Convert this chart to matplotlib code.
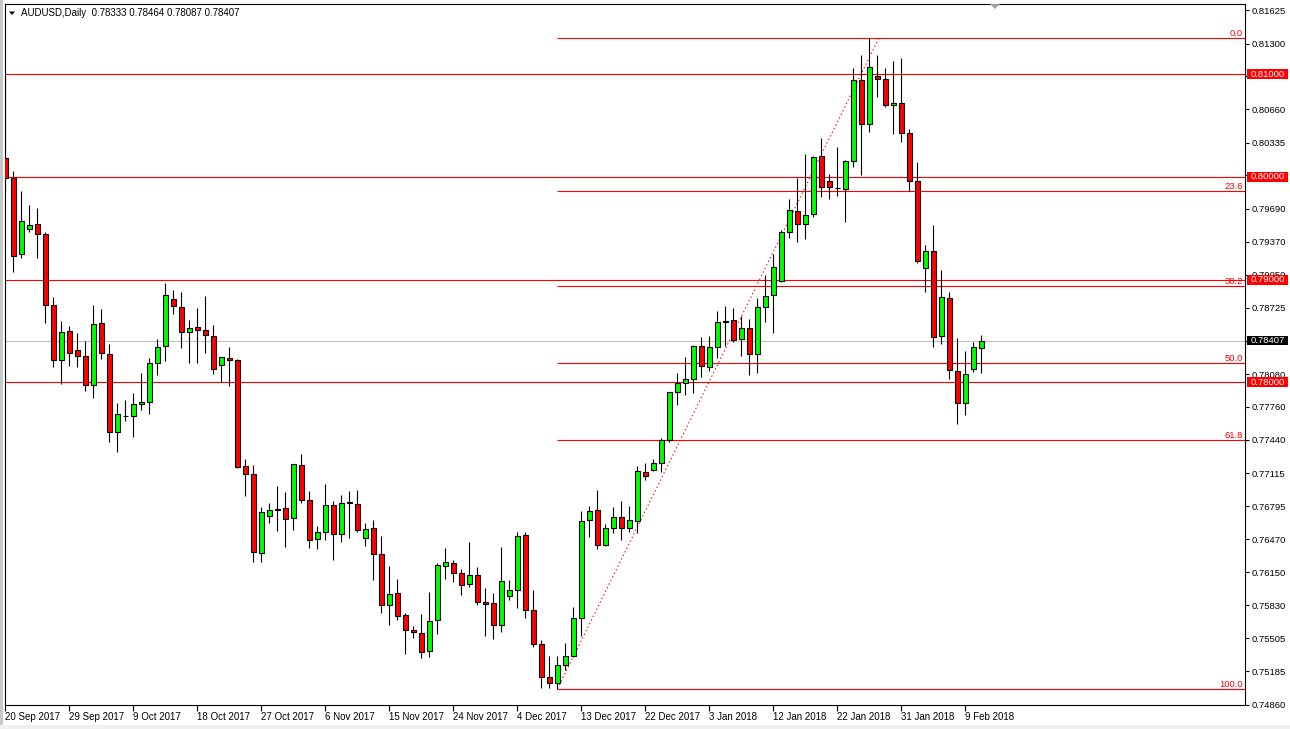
import matplotlib
matplotlib.use("Agg")
import matplotlib.pyplot as plt
import matplotlib.patches as mpatches
import matplotlib.transforms as mtransforms

plt.rcParams["font.family"] = ["Liberation Sans", "DejaVu Sans"]

# ── Data (AUDUSD daily) ──────────────────────────────────────────────────────
OPEN = [
    0.80185, 0.79993, 0.79247, 0.79490, 0.79539, 0.79442, 0.78750, 0.78214, 0.78497, 0.78312,
    0.78253, 0.77971, 0.78575, 0.78273, 0.77513, 0.77669, 0.77669, 0.77792, 0.77805, 0.78185,
    0.78351, 0.78809, 0.78731, 0.78487, 0.78536, 0.78507, 0.78448, 0.78166, 0.78234, 0.78214,
    0.77182, 0.77104, 0.76335, 0.76701, 0.76763, 0.76773, 0.76676, 0.77192, 0.76851, 0.76471,
    0.76539, 0.76802, 0.76520, 0.76822, 0.76812, 0.76481, 0.76578, 0.76325, 0.75828, 0.75945,
    0.75731, 0.75585, 0.75555, 0.75380, 0.75682, 0.76208, 0.76237, 0.76140, 0.76033, 0.76120,
    0.75857, 0.75848, 0.75633, 0.75916, 0.75974, 0.76510, 0.75779, 0.75448, 0.75127, 0.75068,
    0.75244, 0.75331, 0.75702, 0.76656, 0.76753, 0.76413, 0.76578, 0.76685, 0.76578, 0.76646,
    0.77124, 0.77143, 0.77211, 0.77441, 0.77903, 0.77990, 0.78029, 0.78351, 0.78146, 0.78341,
    0.78585, 0.78604, 0.78419, 0.78526, 0.78273, 0.78731, 0.78847, 0.78984, 0.79461, 0.79666,
    0.79539, 0.79636, 0.80201, 0.79958, 0.79890, 0.79880, 0.80153, 0.80942, 0.80513, 0.80981,
    0.80951, 0.80698, 0.80718, 0.80425, 0.79958, 0.79110, 0.79276, 0.78448, 0.78818, 0.78107,
    0.77796, 0.78127, 0.78333,
]
HIGH = [
    0.81022, 0.80058, 0.79863, 0.79727, 0.79695, 0.79461, 0.78831, 0.78597, 0.78548, 0.78480,
    0.78402, 0.78753, 0.78714, 0.78373, 0.77799, 0.77828, 0.77896, 0.78091, 0.78237, 0.78419,
    0.78964, 0.78896, 0.78877, 0.78604, 0.78721, 0.78841, 0.78555, 0.78250, 0.78341, 0.78227,
    0.77253, 0.77192, 0.76786, 0.76825, 0.76993, 0.76932, 0.77205, 0.77302, 0.76941, 0.76597,
    0.77010, 0.76841, 0.76902, 0.76941, 0.76951, 0.76627, 0.76656, 0.76501, 0.76208, 0.76081,
    0.75750, 0.75624, 0.75741, 0.75955, 0.76237, 0.76386, 0.76266, 0.76179, 0.76445, 0.76198,
    0.75994, 0.75945, 0.76393, 0.76072, 0.76539, 0.76539, 0.75975, 0.75487, 0.75331, 0.75331,
    0.75458, 0.75809, 0.76744, 0.76792, 0.76948, 0.76617, 0.76783, 0.76841, 0.76800, 0.77182,
    0.77211, 0.77250, 0.77455, 0.77906, 0.78088, 0.78244, 0.78360, 0.78438, 0.78448, 0.78692,
    0.78740, 0.78721, 0.78643, 0.78614, 0.78818, 0.79042, 0.79247, 0.79481, 0.79783, 0.79987,
    0.80221, 0.80201, 0.80377, 0.80026, 0.80289, 0.80162, 0.81058, 0.81185, 0.81357, 0.81185,
    0.81058, 0.81127, 0.81156, 0.80464, 0.80143, 0.79335, 0.79529, 0.79091, 0.78877, 0.78429,
    0.78302, 0.78390, 0.78464,
]
LOW = [
    0.79844, 0.79077, 0.79214, 0.79464, 0.79214, 0.78581, 0.78149, 0.77987, 0.78162, 0.78149,
    0.77918, 0.77850, 0.78227, 0.77422, 0.77324, 0.77626, 0.77470, 0.77733, 0.77694, 0.78068,
    0.78210, 0.78668, 0.78337, 0.78185, 0.78185, 0.78283, 0.78078, 0.78000, 0.77961, 0.77165,
    0.76896, 0.76253, 0.76253, 0.76630, 0.76552, 0.76399, 0.76562, 0.76820, 0.76389, 0.76379,
    0.76469, 0.76272, 0.76448, 0.76487, 0.76539, 0.76409, 0.76079, 0.75756, 0.75639, 0.75682,
    0.75357, 0.75505, 0.75318, 0.75327, 0.75552, 0.76087, 0.76058, 0.75931, 0.76003, 0.75828,
    0.75526, 0.75503, 0.75565, 0.75877, 0.75799, 0.75707, 0.75419, 0.75025, 0.75022, 0.75016,
    0.75195, 0.75322, 0.75532, 0.76498, 0.76374, 0.76403, 0.76532, 0.76461, 0.76539, 0.76529,
    0.77046, 0.77133, 0.77124, 0.77416, 0.77782, 0.77879, 0.77899, 0.78049, 0.78107, 0.78234,
    0.78351, 0.78390, 0.78256, 0.78074, 0.78094, 0.78590, 0.78477, 0.78982, 0.79403, 0.79364,
    0.79393, 0.79607, 0.79802, 0.79783, 0.79812, 0.79559, 0.80094, 0.80024, 0.80435, 0.80776,
    0.80679, 0.80416, 0.80338, 0.79866, 0.79159, 0.78877, 0.78347, 0.78370, 0.78029, 0.77591,
    0.77679, 0.78097, 0.78087,
]
CLOSE = [
    0.79990, 0.79233, 0.79571, 0.79529, 0.79442, 0.78753, 0.78214, 0.78487, 0.78283, 0.78253,
    0.77971, 0.78565, 0.78283, 0.77513, 0.77688, 0.77671, 0.77786, 0.77805, 0.78185, 0.78341,
    0.78847, 0.78740, 0.78487, 0.78526, 0.78507, 0.78458, 0.78127, 0.78244, 0.78214, 0.77172,
    0.77104, 0.76344, 0.76734, 0.76753, 0.76761, 0.76664, 0.77201, 0.76851, 0.76461, 0.76539,
    0.76802, 0.76520, 0.76822, 0.76831, 0.76559, 0.76568, 0.76325, 0.75828, 0.75935, 0.75721,
    0.75585, 0.75565, 0.75370, 0.75672, 0.76218, 0.76247, 0.76140, 0.76023, 0.76120, 0.75857,
    0.75838, 0.75633, 0.76062, 0.75974, 0.76500, 0.75779, 0.75448, 0.75127, 0.75068, 0.75244,
    0.75331, 0.75702, 0.76646, 0.76744, 0.76413, 0.76578, 0.76685, 0.76578, 0.76656, 0.77133,
    0.77085, 0.77211, 0.77441, 0.77903, 0.77990, 0.78029, 0.78351, 0.78156, 0.78341, 0.78585,
    0.78594, 0.78409, 0.78526, 0.78273, 0.78731, 0.78838, 0.79120, 0.79461, 0.79675, 0.79539,
    0.79627, 0.80192, 0.79899, 0.79899, 0.79888, 0.80153, 0.80942, 0.80513, 0.81068, 0.80951,
    0.80698, 0.80718, 0.80425, 0.79958, 0.79179, 0.79276, 0.78438, 0.78828, 0.78117, 0.77796,
    0.78078, 0.78341, 0.78407,
]

DATE_LABELS = [
    "20 Sep 2017", "29 Sep 2017", "9 Oct 2017", "18 Oct 2017", "27 Oct 2017",
    "6 Nov 2017", "15 Nov 2017", "24 Nov 2017", "4 Dec 2017", "13 Dec 2017",
    "22 Dec 2017", "3 Jan 2018", "12 Jan 2018", "22 Jan 2018", "31 Jan 2018",
    "9 Feb 2018",
]
DATE_STEP = 8  # bars between date labels

PRICE_TICKS = [
    0.81625, 0.81300, 0.80980, 0.80660, 0.80335, 0.80015, 0.79690, 0.79370,
    0.79050, 0.78725, 0.78400, 0.78080, 0.77760, 0.77440, 0.77115, 0.76795,
    0.76470, 0.76150, 0.75830, 0.75505, 0.75185, 0.74860,
]
# tick labels fully covered by the level boxes on the price scale
HIDDEN_TICKS = [0.80980, 0.80015, 0.78400]
ROUND_LEVELS = [0.81, 0.80, 0.79, 0.78]
BID = 0.78407

# Fibonacci retracement: anchored from the Dec low bar to the Jan high
FIB_START_BAR, FIB_END_BAR = 69, 109.2
FIB_LOW, FIB_HIGH = 0.75016, 0.81357
FIB_LEVELS = [0.0, 23.6, 38.2, 50.0, 61.8, 100.0]

# ── Colours (MT4 default-ish) ────────────────────────────────────────────────
RED = "#FF0000"
LIME = "#00FF00"
BLACK = "#000000"
SILVER = "#C0C0C0"

W, H = 1290, 729


def px(x, y):
    """pixel (from top-left) -> figure fraction"""
    return (x / W, 1 - y / H)


fig = plt.figure(figsize=(W / 100, H / 100), dpi=100, facecolor="white")
ax = fig.add_axes([4.5 / W, 1 - 705 / H, (1245 - 4.5) / W, (705 - 4) / H])
ax.set_facecolor("white")

XMIN, XMAX = -0.125, 154.94
YMIN, YMAX = 0.74857, 0.81685

# ── Horizontal levels ────────────────────────────────────────────────────────
ax.axhline(BID, color=SILVER, lw=0.8, zorder=1)
for lvl in ROUND_LEVELS:
    ax.axhline(lvl, color=RED, lw=0.8, zorder=2)

fib_range = FIB_HIGH - FIB_LOW
fib_prices = [FIB_HIGH - f / 100 * fib_range for f in FIB_LEVELS]
ax.hlines(fib_prices, FIB_START_BAR, XMAX, color=RED, lw=0.8, zorder=2)
ax.plot([FIB_START_BAR, FIB_END_BAR], [FIB_LOW, FIB_HIGH], color=RED,
        lw=0.8, ls=(0, (1.2, 2.4)), zorder=2)

# ── Candles ──────────────────────────────────────────────────────────────────
BODY_W = 0.56
for i, (o, h, l, c) in enumerate(zip(OPEN, HIGH, LOW, CLOSE)):
    ax.vlines(i, l, h, color=BLACK, lw=0.8, zorder=3)
    col = LIME if c >= o else RED
    ax.add_patch(mpatches.Rectangle(
        (i - BODY_W / 2, min(o, c)), BODY_W, max(abs(c - o), 1e-6),
        facecolor=col, edgecolor=BLACK, lw=0.8, zorder=4))

ax.set_xlim(XMIN, XMAX)
ax.set_ylim(YMIN, YMAX)

# ── Axes styling ─────────────────────────────────────────────────────────────
for s in ax.spines.values():
    s.set_color(BLACK)
    s.set_linewidth(0.8)

ax.set_xticks(range(0, DATE_STEP * len(DATE_LABELS), DATE_STEP))
ax.set_xticklabels(DATE_LABELS, ha="left", fontsize=7)
ax.tick_params(axis="x", direction="out", length=4, width=0.8, pad=0.7,
               colors=BLACK)

ax.yaxis.tick_right()
ax.set_yticks(PRICE_TICKS)
ax.set_yticklabels(["" if v in HIDDEN_TICKS else f"{v:.5f}" for v in PRICE_TICKS],
                   fontsize=6.8)
ax.tick_params(axis="y", direction="out", length=3, width=0.8, pad=2,
               colors=BLACK)

# ── Labels on the price scale ────────────────────────────────────────────────
trans = mtransforms.blended_transform_factory(fig.transFigure, ax.transData)
box_h = 9.7 * (YMAX - YMIN) / 701
for lvl, fc in [(l, RED) for l in ROUND_LEVELS] + [(BID, BLACK)]:
    fig.add_artist(mpatches.Rectangle(
        (1247 / W, lvl - box_h / 2), 41 / W, box_h, transform=trans,
        facecolor=fc, edgecolor="none", zorder=10))
    fig.text(1267.5 / W, lvl, f"{lvl:.5f}", transform=trans, ha="center",
             va="center", fontsize=6.8, color="white", zorder=11)

for f, p in zip(FIB_LEVELS, fib_prices):
    fig.text(1243 / W, p, f"{f:.1f}", transform=trans, ha="right",
             va="bottom", fontsize=6.8, color=RED, zorder=11)

# ── Header & decorations ─────────────────────────────────────────────────────
fig.text(*px(21, 13), "AUDUSD,Daily  0.78333 0.78464 0.78087 0.78407",
         fontsize=7, va="center", ha="left", color=BLACK)
fig.add_artist(mpatches.Polygon([px(9, 11.5), px(15, 11.5), px(12, 15)],
                                closed=True, facecolor=BLACK, edgecolor="none",
                                transform=fig.transFigure))
fig.add_artist(mpatches.Polygon([px(990, 4), px(1000, 4), px(995, 9)],
                                closed=True, facecolor="#A0A0A0",
                                edgecolor="none", transform=fig.transFigure))
# window edges
fig.add_artist(mpatches.Rectangle(px(0, 729), 2.5 / W, 1, facecolor="#C8C8C8",
                                  edgecolor="none", transform=fig.transFigure))
fig.add_artist(mpatches.Rectangle(px(0, 729), 1, 4 / H, facecolor="#F0F0F0",
                                  edgecolor="none", transform=fig.transFigure))

fig.savefig("out.png", dpi=100, facecolor="white")
